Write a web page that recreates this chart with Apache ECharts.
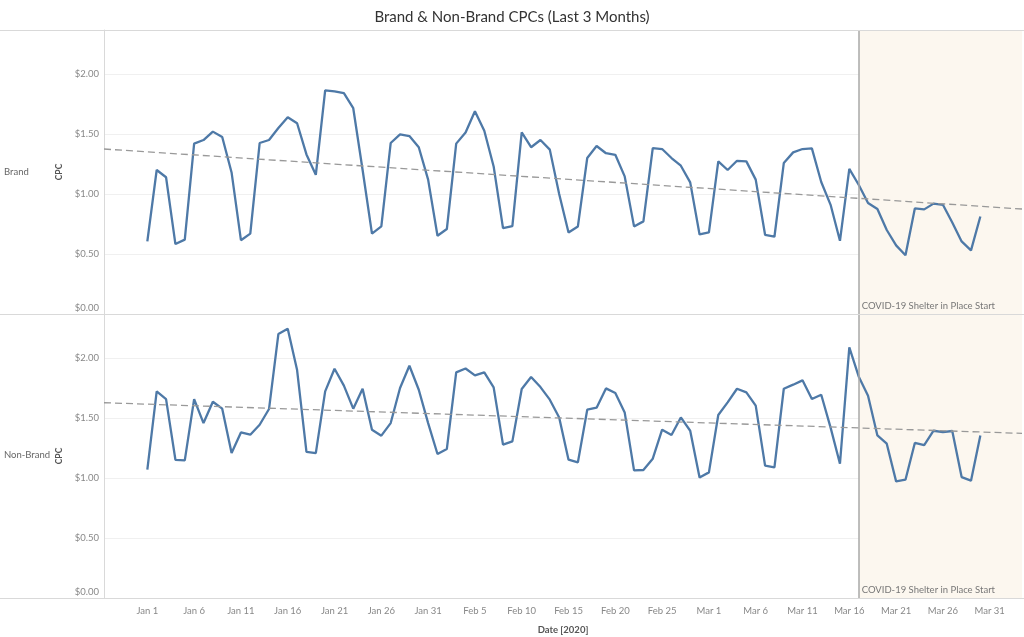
<!DOCTYPE html>
<html>
<head>
<meta charset="utf-8">
<script src="https://cdn.jsdelivr.net/npm/echarts@6/dist/echarts.min.js"></script>
<style>html,body{margin:0;padding:0;background:#fff}#c{width:1024px;height:637px}</style>
</head>
<body>
<div id="c"></div>
<script>
// Days from Jan 1, 2020 (index 0) through Mar 30, 2020 (index 89)
const title = 'Brand & Non-Brand CPCs (Last 3 Months)';
const rowLabels = ['Brand', 'Non-Brand'];
const tickLabels = ['Jan 1','Jan 6','Jan 11','Jan 16','Jan 21','Jan 26','Jan 31','Feb 5','Feb 10','Feb 15','Feb 20','Feb 25','Mar 1','Mar 6','Mar 11','Mar 16','Mar 21','Mar 26','Mar 31'];
const tickDays = [0,5,10,15,20,25,30,35,40,45,50,55,60,65,70,75,80,85,90];
const brandCPC = [
  0.605,1.20,1.14,0.583,0.62,1.42,1.45,1.52,1.475,1.18,
  0.615,0.67,1.425,1.45,1.55,1.64,1.59,1.33,1.16,1.863,
  1.855,1.84,1.715,1.20,0.67,0.73,1.425,1.497,1.483,1.39,
  1.12,0.652,0.708,1.42,1.513,1.69,1.527,1.23,0.716,0.733,
  1.513,1.39,1.45,1.37,1.0,0.68,0.73,1.30,1.40,1.34,
  1.327,1.147,0.73,0.772,1.383,1.375,1.30,1.236,1.097,0.663,
  0.68,1.272,1.20,1.277,1.272,1.12,0.66,0.644,1.258,1.347,
  1.375,1.38,1.10,0.91,0.61,1.21,1.077,0.925,0.875,0.70,
  0.572,0.49,0.88,0.872,0.92,0.91,0.763,0.605,0.53,0.813
];
const nonBrandCPC = [
  1.069,1.722,1.658,1.152,1.147,1.658,1.458,1.636,1.578,1.208,
  1.38,1.361,1.444,1.575,2.20,2.244,1.90,1.217,1.208,1.722,
  1.911,1.77,1.578,1.744,1.403,1.353,1.458,1.75,1.936,1.736,
  1.458,1.20,1.242,1.88,1.913,1.855,1.88,1.755,1.278,1.305,
  1.742,1.842,1.758,1.653,1.505,1.153,1.13,1.569,1.586,1.747,
  1.708,1.547,1.064,1.067,1.161,1.403,1.358,1.505,1.394,1.005,
  1.047,1.525,1.63,1.744,1.714,1.603,1.103,1.089,1.744,1.778,
  1.814,1.658,1.694,1.42,1.119,2.089,1.847,1.686,1.355,1.286,
  0.972,0.986,1.292,1.275,1.394,1.383,1.392,1.008,0.978,1.355
];
// Trend line values at the left and right edges of the plot
const brandTrend = [1.375, 0.875];
const nonBrandTrend = [1.6275, 1.372];
const shelterDay = 76; // Mar 17
const shelterLabel = 'COVID-19 Shelter in Place Start';

const xMin = -4.63, xMax = 93.45;
const FONT = 'Lato, "Open Sans", sans-serif';
const lineColor = '#4e79a7';

function toPts(arr){ return arr.map((v,i)=>[i,v]); }
function trendPts(t){ return [[xMin,t[0]],[xMax,t[1]]]; }

const chart = echarts.init(document.getElementById('c'));
const gridDefs = [{left:104, top:30, width:918, height:284},{left:104, top:314, width:918, height:284}];

function xAxisDef(idx, showLabels){
  return {
    type:'value', gridIndex:idx, min:xMin, max:xMax,
    axisLine:{show:false, onZero:false}, splitLine:{show:false},
    axisTick:{show:false},
    axisLabel:{show:showLabels, customValues:tickDays, color:'#888', fontSize:9.5, fontFamily:FONT, margin:8,
      formatter:(v)=>{const k=tickDays.indexOf(Math.round(v)); return k>=0?tickLabels[k]:'';}},
    name: showLabels ? 'Date [2020]' : '', nameLocation:'middle', nameGap:27,
    nameTextStyle:{color:'#555', fontSize:9.5, fontWeight:'bold', fontFamily:FONT}
  };
}
function yAxisDef(idx){
  return {
    type:'value', gridIndex:idx, min:0, max:2.367, interval:0.5,
    axisLine:{show:true, onZero:false, lineStyle:{color:'#d9d9d9'}}, axisTick:{show:false},
    splitLine:{show:true, lineStyle:{color:'#f0f0f0', width:1}},
    axisLabel:{color:'#888', fontSize:9.5, fontFamily:FONT, margin:5, showMaxLabel:false,
      formatter:(v)=> v===0 ? '{z|$0.00}' : '$'+v.toFixed(2),
      rich:{z:{color:'#888', fontSize:9.5, fontFamily:FONT, padding:[0,0,12,0]}}},
    name:'CPC', nameLocation:'middle', nameGap:37, nameRotate:90,
    nameTextStyle:{color:'#555', fontSize:8.5, fontWeight:'bold', fontFamily:FONT}
  };
}
function shade(){
  return {
    silent:true,
    itemStyle:{color:'#fcf7ef'},
    label:{show:true, position:'insideBottomLeft', formatter:shelterLabel, color:'#777', fontSize:9.5, fontFamily:FONT, distance:3},
    data:[[{xAxis:shelterDay, yAxis:0},{xAxis:xMax, yAxis:2.367}]]
  };
}
function vline(){
  return {symbol:'none', silent:true, label:{show:false},
    lineStyle:{color:'#a9a9a9', type:'solid', width:1.5}, data:[{xAxis:shelterDay}]};
}
function seriesFor(idx, values, trend){
  return [
    {type:'line', xAxisIndex:idx, yAxisIndex:idx, data:toPts(values), showSymbol:false,
     lineStyle:{color:lineColor, width:2.3}, itemStyle:{color:lineColor}, z:3,
     markArea:shade(), markLine:vline(), animation:false},
    {type:'line', xAxisIndex:idx, yAxisIndex:idx, data:trendPts(trend), showSymbol:false,
     lineStyle:{color:'#999', width:1.3, type:[7,4]}, z:4, animation:false}
  ];
}

chart.setOption({
  backgroundColor:'#fff',
  animation:false,
  title:{text:title, left:'center', top:5, textStyle:{color:'#333', fontSize:15, fontWeight:'normal', fontFamily:FONT}},
  grid:gridDefs,
  xAxis:[xAxisDef(0,false), xAxisDef(1,true)],
  yAxis:[yAxisDef(0), yAxisDef(1)],
  series:[...seriesFor(0, brandCPC, brandTrend), ...seriesFor(1, nonBrandCPC, nonBrandTrend)],
  graphic:[
    {type:'line', shape:{x1:0,y1:30.5,x2:1024,y2:30.5}, style:{stroke:'#d9d9d9', lineWidth:1}, z:10},
    {type:'line', shape:{x1:0,y1:314.5,x2:1024,y2:314.5}, style:{stroke:'#d9d9d9', lineWidth:1}, z:10},
    {type:'line', shape:{x1:0,y1:598.5,x2:1024,y2:598.5}, style:{stroke:'#d9d9d9', lineWidth:1}, z:10},
    {type:'text', left:4, top:167, style:{text:rowLabels[0], fill:'#666', fontSize:9.5, fontFamily:FONT}},
    {type:'text', left:4, top:450, style:{text:rowLabels[1], fill:'#666', fontSize:9.5, fontFamily:FONT}}
  ]
});
</script>
</body>
</html>
